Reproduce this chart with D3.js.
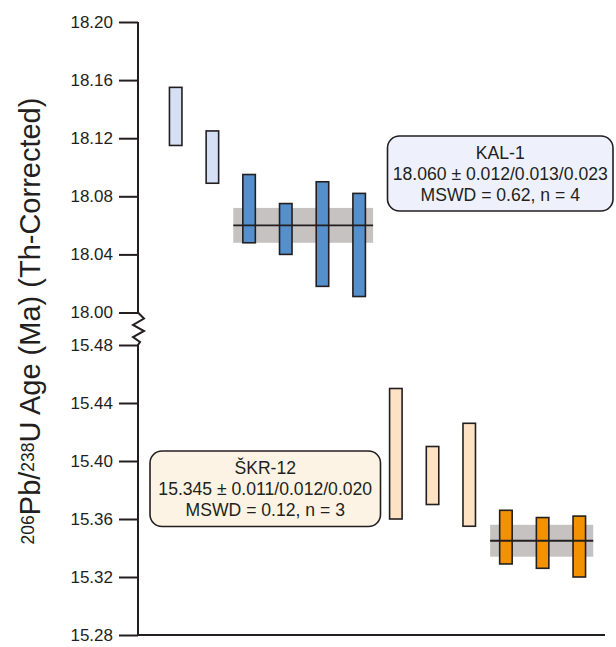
<!DOCTYPE html>
<html>
<head>
<meta charset="utf-8">
<script src="https://cdn.jsdelivr.net/npm/d3@7"></script>
<style>
  body { margin: 0; background: #fff; }
  text { font-family: "Liberation Sans", Arial, sans-serif; fill: #231f20; }
</style>
</head>
<body>
<div id="chart"></div>
<script>

// ages, 2 sigma bars (Ma)
var kalLow  = [18.115, 18.089, 18.048, 18.040, 18.018, 18.011];
var kalHigh = [18.155, 18.125, 18.095, 18.075, 18.090, 18.082];
var kalUsed = [false, false, true, true, true, true];

var skrLow  = [15.360, 15.370, 15.355, 15.329, 15.326, 15.320];
var skrHigh = [15.450, 15.410, 15.426, 15.366, 15.361, 15.362];
var skrUsed = [false, false, false, true, true, true];

var kalMean = 18.060, kalErr = 0.012;
var skrMean = 15.345, skrErr = 0.011;

var topTicks = [18.00, 18.04, 18.08, 18.12, 18.16, 18.20];
var botTicks = [15.28, 15.32, 15.36, 15.40, 15.44, 15.48];

var kalText = ["KAL-1", "18.060 \u00b1 0.012/0.013/0.023", "MSWD = 0.62, n = 4"];
var skrText = ["\u0160KR-12", "15.345 \u00b1 0.011/0.012/0.020", "MSWD = 0.12, n = 3"];

var W = 616, H = 647;
var axisX = 138;

var svg = d3.select("#chart").append("svg")
    .attr("width", W)
    .attr("height", H);

// two y scales, one per segment of the broken axis
var yTop = d3.scaleLinear().domain([18.00, 18.20]).range([312.5, 22]);
var yBot = d3.scaleLinear().domain([15.28, 15.48]).range([635, 345]);

// analysis index -> x
var x = d3.scaleLinear().domain([1, 12]).range([175.7, 579.3]);
var barW = 12.5;

var kalData = kalLow.map(function(d, i) {
  return {i: i + 1, lo: d, hi: kalHigh[i], used: kalUsed[i]};
});
var skrData = skrLow.map(function(d, i) {
  return {i: i + 7, lo: d, hi: skrHigh[i], used: skrUsed[i]};
});

// weighted mean bands
function band(mean, err, first, last, y) {
  svg.append("rect")
      .attr("x", x(first - 0.43))
      .attr("width", x(last + 0.38) - x(first - 0.43))
      .attr("y", y(mean + err))
      .attr("height", y(mean - err) - y(mean + err))
      .style("fill", "#c6c2c2");
}
band(kalMean, kalErr, 3, 6, yTop);
band(skrMean, skrErr, 10, 12, yBot);

function bars(data, y, light, dark) {
  svg.append("g").selectAll("rect")
      .data(data)
      .enter().append("rect")
      .attr("x", function(d) { return x(d.i) - barW / 2; })
      .attr("width", barW)
      .attr("y", function(d) { return y(d.hi); })
      .attr("height", function(d) { return y(d.lo) - y(d.hi); })
      .style("fill", function(d) { return d.used ? dark : light; })
      .style("stroke", "#231f20")
      .style("stroke-width", 1.6);
}
bars(kalData, yTop, "#d5e0f5", "#5590cc");
bars(skrData, yBot, "#fde3c4", "#f39200");

// mean lines over the bars
function meanLine(mean, first, last, y) {
  svg.append("line")
      .attr("x1", x(first - 0.43))
      .attr("x2", x(last + 0.38))
      .attr("y1", y(mean))
      .attr("y2", y(mean))
      .style("stroke", "#231f20")
      .style("stroke-width", 1.8);
}
meanLine(kalMean, 3, 6, yTop);
meanLine(skrMean, 10, 12, yBot);

// axes
var fmt = d3.format(".2f");
var gTop = svg.append("g")
    .attr("transform", "translate(" + axisX + ",0)")
    .call(d3.axisLeft(yTop).tickValues(topTicks).tickFormat(fmt).tickSize(19).tickPadding(6));
var gBot = svg.append("g")
    .attr("transform", "translate(" + axisX + ",0)")
    .call(d3.axisLeft(yBot).tickValues(botTicks).tickFormat(fmt).tickSize(19).tickPadding(6));

[gTop, gBot].forEach(function(g) {
  g.select(".domain").remove();
  g.attr("font-size", null).attr("font-family", null);
  g.selectAll("line").style("stroke", "#231f20").style("stroke-width", 2);
  g.selectAll("text").style("font-size", "17px").style("fill", "#231f20");
});

// axis spine with the break zigzag
var zig = [[0, yTop(18.20)], [0, yTop(18.00)], [6, 318.5], [-5, 325], [6, 331], [-5, 337], [2, 342], [0, yBot(15.48)], [0, yBot(15.28)]];
svg.append("path")
    .attr("d", d3.line()(zig.map(function(p) { return [axisX + p[0], p[1]]; })))
    .style("fill", "none")
    .style("stroke", "#231f20")
    .style("stroke-width", 2);

// bottom line
svg.append("line")
    .attr("x1", axisX).attr("x2", 605)
    .attr("y1", yBot(15.28)).attr("y2", yBot(15.28))
    .style("stroke", "#231f20")
    .style("stroke-width", 2);

// y label
var lab = svg.append("text")
    .attr("transform", "translate(40,321) rotate(-90)")
    .style("text-anchor", "middle")
    .style("font-size", "29px");
lab.append("tspan").attr("baseline-shift", "35%").style("font-size", "17.5px").text("206");
lab.append("tspan").text("Pb/");
lab.append("tspan").attr("baseline-shift", "35%").style("font-size", "17.5px").text("238");
lab.append("tspan").text("U Age (Ma) (Th-Corrected)");

// result boxes
function box(x0, y0, w, h, fill, lines) {
  svg.append("rect")
      .attr("x", x0).attr("y", y0)
      .attr("width", w).attr("height", h)
      .attr("rx", 12).attr("ry", 12)
      .style("fill", fill)
      .style("stroke", "#231f20")
      .style("stroke-width", 1.6);
  svg.append("g").selectAll("text")
      .data(lines)
      .enter().append("text")
      .attr("x", x0 + w / 2)
      .attr("y", function(d, i) { return y0 + 22.5 + i * 21; })
      .style("text-anchor", "middle")
      .style("font-size", "17.6px")
      .text(function(d) { return d; });
}
box(387.5, 136, 225.5, 75, "#eef1fb", kalText);
box(150, 451, 230.5, 75.5, "#fdf3e4", skrText);

</script>
</body>
</html>
